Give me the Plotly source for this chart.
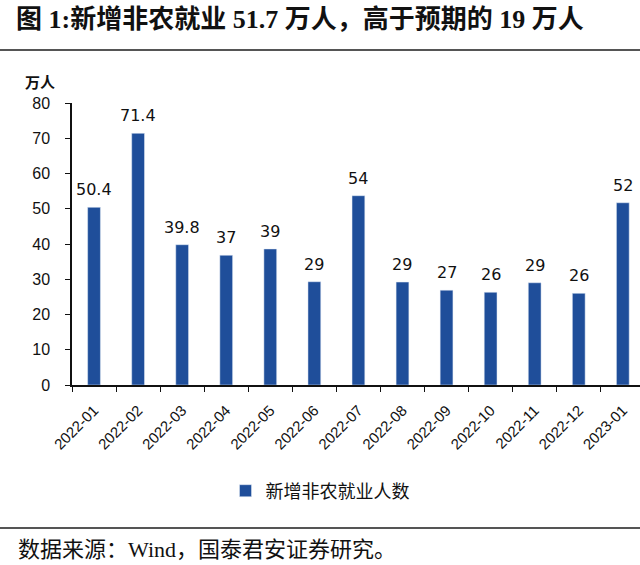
import plotly.graph_objects as go

months = ["2022-01", "2022-02", "2022-03", "2022-04", "2022-05", "2022-06", "2022-07",
          "2022-08", "2022-09", "2022-10", "2022-11", "2022-12", "2023-01"]
values = [50.4, 71.4, 39.8, 36.8, 38.6, 29.3, 53.7, 29.2, 26.9, 26.3, 29.0, 26.0, 51.7]
labels = ["50.4", "71.4", "39.8", "37", "39", "29", "54", "29", "27", "26", "29", "26", "52"]
series_name = "新增非农就业人数"
y_ticks = [0, 10, 20, 30, 40, 50, 60, 70, 80]

BLUE = "#1f4e9a"
W, H = 640, 565
L, R, T, B = 72, 0, 103, 565 - 385
pw, ph = W - L - R, H - T - B

def px_x(x):
    return (x - L) / pw

def px_y(y):
    return (H - B - y) / ph

fig = go.Figure()
fig.add_trace(go.Bar(
    x=months, y=values, name=series_name, marker_color=BLUE, width=0.29,
    showlegend=True,
))

for m, v, t in zip(months, values, labels):
    fig.add_annotation(x=m, y=v, text=t, showarrow=False, yanchor="bottom", yshift=6,
                       font=dict(family="DejaVu Sans", size=16, color="#111"))

fig.add_annotation(xref="paper", yref="paper", x=px_x(40), y=px_y(81), text="<b>万人</b>",
                   showarrow=False, xanchor="center", yanchor="middle",
                   font=dict(family="Noto Sans CJK SC", size=15, color="#111"))

fig.add_annotation(xref="paper", yref="paper", x=px_x(16), y=px_y(549),
                   text="数据来源：Wind，国泰君安证券研究。", showarrow=False,
                   xanchor="left", yanchor="middle",
                   font=dict(family="Liberation Serif, Noto Sans CJK SC", size=22, color="#111"))

for yy in (50, 528):
    fig.add_shape(type="line", xref="paper", yref="paper", x0=px_x(0), x1=px_x(640),
                  y0=px_y(yy), y1=px_y(yy), line=dict(color="#555", width=2))

fig.add_annotation(xref="paper", yref="paper", x=px_x(14), y=px_y(19),
                   text="<b>图 1:新增非农就业 51.7 万人，高于预期的 19 万人</b>",
                   showarrow=False, xanchor="left", yanchor="middle",
                   font=dict(family="Liberation Serif, Noto Sans CJK SC", size=26, color="#111"))

fig.update_layout(
    width=W, height=H,
    margin=dict(l=L, r=R, t=T, b=B, autoexpand=False),
    paper_bgcolor="white", plot_bgcolor="white",
    xaxis=dict(type="category", range=[-0.5, 12.39], tickson="boundaries",
               ticks="outside", ticklen=5, tickcolor="#111", showline=True, linecolor="#111",
               linewidth=1.5, tickangle=-45, showgrid=False, ticklabelstandoff=9,
               tickfont=dict(family="Liberation Sans", size=15, color="#111")),
    yaxis=dict(range=[0, 80], tickvals=y_ticks, ticks="outside", ticklen=5, tickcolor="#111",
               showline=True, linecolor="#111", linewidth=1.5, showgrid=False, zeroline=False,
               ticklabelstandoff=12,
               tickfont=dict(family="Liberation Sans", size=16, color="#111")),
    legend=dict(orientation="h", x=px_x(320), y=px_y(491), xanchor="center", yanchor="middle",
                font=dict(family="Noto Sans CJK SC", size=18, color="#111"),
                itemwidth=30, bgcolor="rgba(0,0,0,0)"),
    bargap=0.7,
)

fig.write_html("out.html", config={"displayModeBar": False},
               post_script="document.body.style.margin='0';document.body.style.overflow='hidden';")
